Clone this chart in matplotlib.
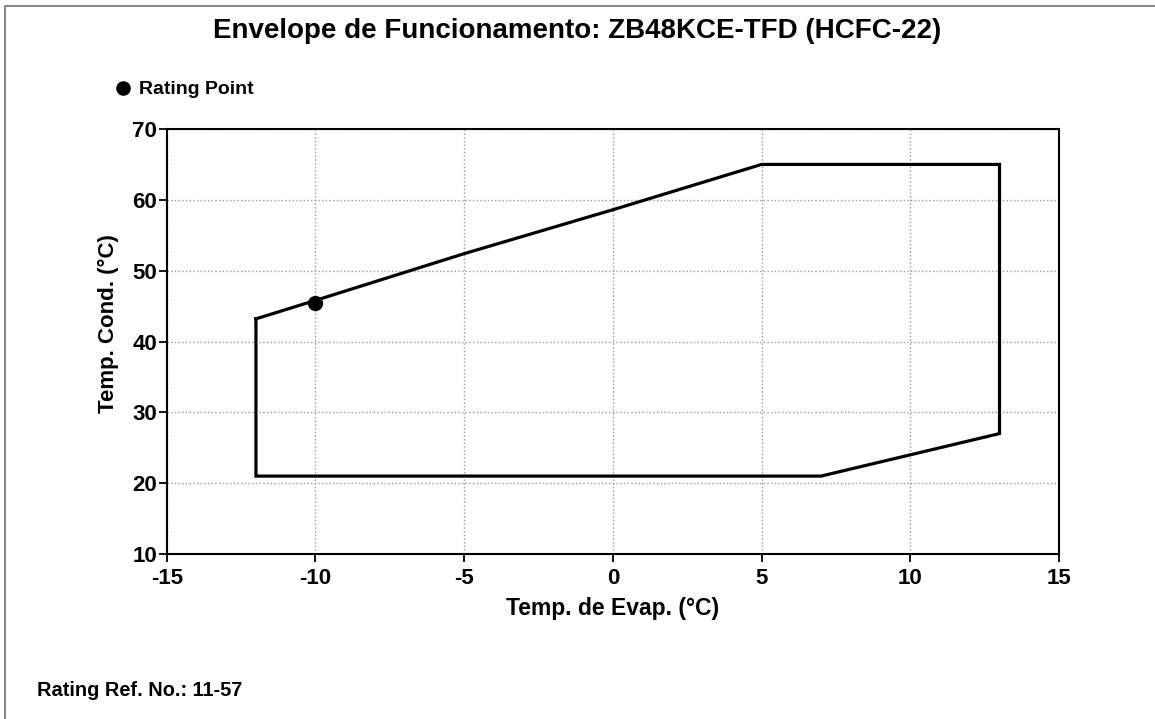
import matplotlib.pyplot as plt
from matplotlib.lines import Line2D

plt.rcParams['font.family'] = ['Liberation Sans', 'DejaVu Sans']
plt.rcParams['font.weight'] = 'bold'
plt.rcParams['axes.unicode_minus'] = False

# envelope outline (evap temp, cond temp)
evap = [-12, -10, -5, 0, 5, 13, 13, 7, -12, -12]
cond = [43.2, 45.8, 52.4, 58.6, 65, 65, 27, 21, 21, 43.2]

rating_evap = [-10]
rating_cond = [45.4]

xticks = [-15, -10, -5, 0, 5, 10, 15]
yticks = [10, 20, 30, 40, 50, 60, 70]

fig = plt.figure(figsize=(11.55, 7.19), dpi=100)
ax = fig.add_axes([166.7 / 1155, 1 - 554 / 719, (1059 - 166.7) / 1155, (554 - 129) / 719])

ax.plot(evap, cond, color='black', lw=2.3, solid_joinstyle='miter')
ax.plot(rating_evap, rating_cond, 'o', color='black', ms=10)

ax.set_xlim(-15, 15)
ax.set_ylim(10, 70)
ax.set_xticks(xticks)
ax.set_yticks(yticks)
ax.tick_params(labelsize=16, length=6, width=1.3)
ax.tick_params(axis='y', pad=1)
ax.tick_params(axis='x', pad=4)
for lab in ax.get_xticklabels() + ax.get_yticklabels():
    lab.set_fontweight('bold')
for s in ax.spines.values():
    s.set_linewidth(1.5)
ax.grid(True, color='#999999', linestyle=':', linewidth=1.0)

ax.set_xlabel('Temp. de Evap. (°C)', fontsize=16.5, fontweight='bold')
ax.set_ylabel('Temp. Cond. (°C)', fontsize=16, fontweight='bold')
ax.xaxis.set_label_coords(0.5, -(608 - 554) / 425, transform=ax.transAxes)
ax.xaxis.label.set_va('center')
ax.yaxis.set_label_coords((108 - 166.7) / 892.3, (554 - 324) / 425, transform=ax.transAxes)
ax.yaxis.label.set_va('center')

fig.text(0.5, 1 - 31 / 719, 'Envelope de Funcionamento: ZB48KCE-TFD (HCFC-22)',
         ha='center', va='center', fontsize=20, fontweight='bold')

fig.add_artist(Line2D([123 / 1155], [1 - 88 / 719], marker='o', color='black', ms=9.5,
                      transform=fig.transFigure))
fig.text(139 / 1155, 1 - 89 / 719, 'Rating Point', ha='left', va='center',
         fontsize=14, fontweight='bold')
fig.text(37 / 1155, 1 - 691 / 719, 'Rating Ref. No.: 11-57', ha='left', va='center',
         fontsize=14.4, fontweight='bold')

# outer frame (top and left edges)
fig.add_artist(Line2D([5 / 1155, 5 / 1155, 1], [0, 1 - 6 / 719, 1 - 6 / 719],
                      color='#888888', lw=1.5, transform=fig.transFigure))

fig.savefig('out.png', dpi=100, facecolor='white')
